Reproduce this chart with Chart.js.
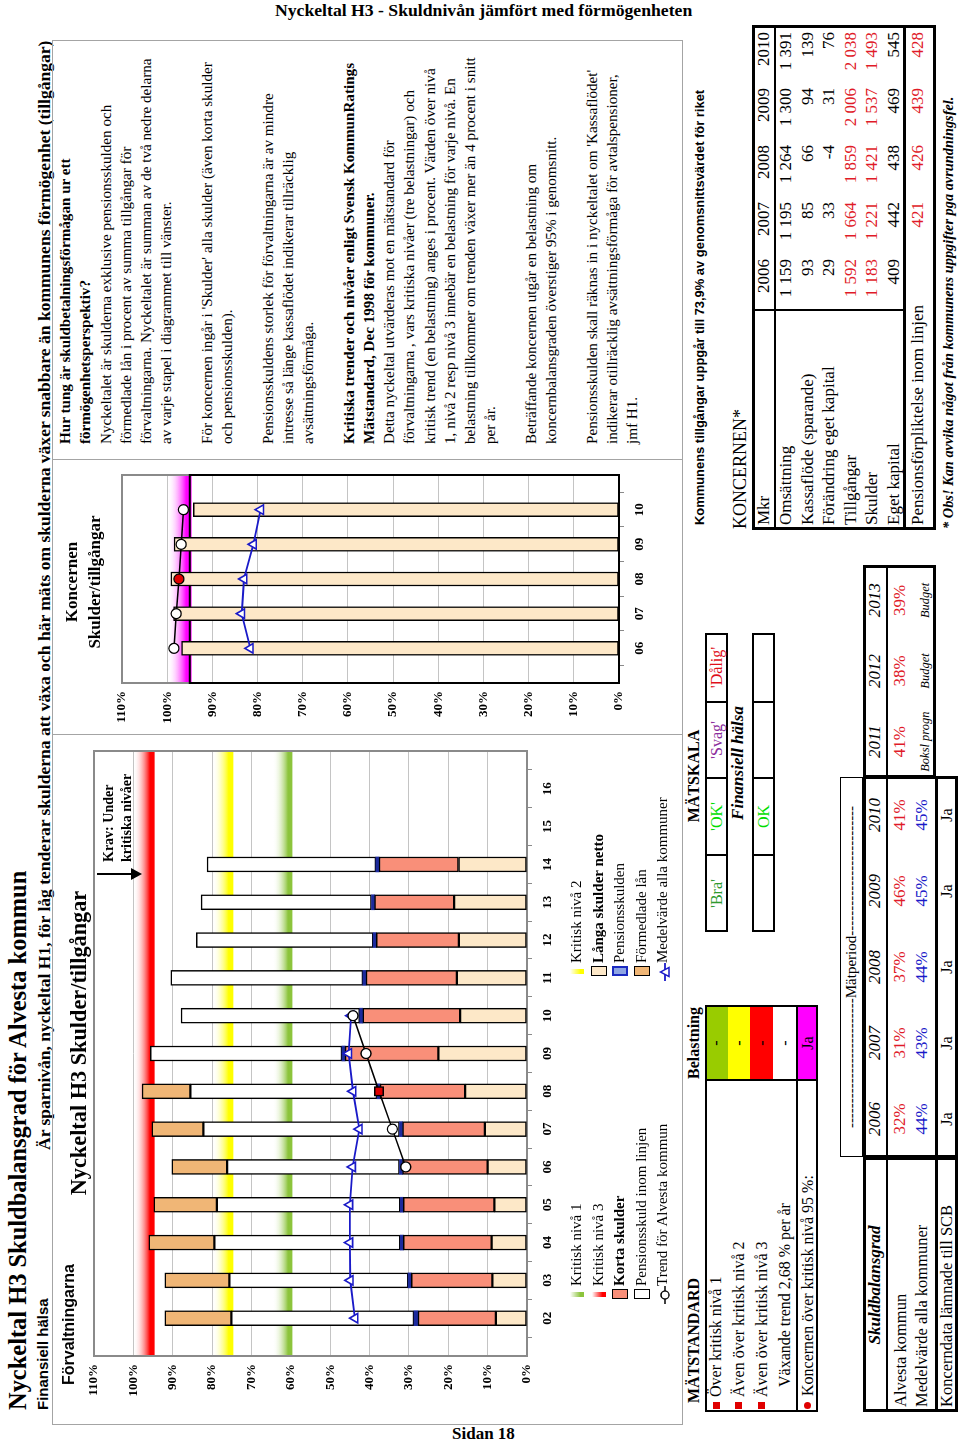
<!DOCTYPE html>
<html lang="sv">
<head>
<meta charset="utf-8">
<title>Nyckeltal H3 Skuldbalansgrad för Alvesta kommun</title>
<script src="https://cdn.jsdelivr.net/npm/chart.js@4.4.1/dist/chart.umd.min.js"></script>
<style>
  html, body { margin: 0; padding: 0; background: #fff; }
  body { width: 960px; height: 1446px; position: relative; overflow: hidden; font-family: 'Liberation Serif', 'Times New Roman', serif; color: #000; }
  #sheet { position: absolute; left: 0; top: 0; width: 1446px; height: 960px; transform-origin: 0 0; transform: rotate(-90deg) translateX(-1446px); }
  .a { position: absolute; box-sizing: border-box; }
  .t { position: absolute; white-space: nowrap; line-height: 1.15; transform: translateY(-50%); }
  .tc { position: absolute; white-space: nowrap; line-height: 1.15; transform: translate(-50%, -50%); }
  .tr { position: absolute; white-space: nowrap; line-height: 1.15; transform: translate(-100%, -50%); }
  canvas { position: absolute; }
  #pageHead { position: absolute; left: 275px; top: 0; font-weight: bold; font-size: 17px; white-space: nowrap; }
  #pageFoot { position: absolute; left: 452px; top: 1424px; font-weight: bold; font-size: 17px; white-space: nowrap; }
  #info { position: absolute; left: 1002px; top: 55px; font-size: 14.8px; line-height: 20.25px; white-space: nowrap; }
</style>
</head>
<body>
<div id="pageHead" data-fit="417">Nyckeltal H3 - Skuldnivån jämfört med förmögenheten</div>
<div id="pageFoot">Sidan 18</div>
<div id="sheet">
  <canvas id="mainChart" width="665" height="480" style="left:40px;top:85px"></canvas>
  <canvas id="koncernChart" width="269" height="545" style="left:712px;top:112px"></canvas>
  <div id="info"><b>Hur tung är skuldbetalningsförmågan ur ett<br>förmögenhetsperspektiv?</b><br>Nyckeltalet är skulderna exklusive pensionsskulden och<br>förmedlade lån i procent av summa tillgångar för<br><span id="fitLine">förvaltningarna. Nyckeltalet är summan av de två nedre delarna</span><br>av varje stapel i diagrammet till vänster.<br><br>För koncernen ingår i 'Skulder' alla skulder (även korta skulder<br>och pensionsskulden).<br><br>Pensionsskuldens storlek för förvaltningarna är av mindre<br>intresse så länge kassaflödet indikerar tillräcklig<br>avsättningsförmåga.<br><br><b>Kritiska trender och nivåer enligt Svensk KommunRatings<br>Mätstandard, Dec 1998 för kommuner.</b><br>Detta nyckeltal utvärderas mot en mätstandard för<br>förvaltningarna , vars kritiska nivåer (tre belastningar) och<br>kritisk trend (en belastning) anges i procent. Värden över nivå<br>1, nivå 2 resp nivå 3 innebär en belastning för varje nivå. En<br>belastning tillkommer om trenden växer mer än 4 procent i snitt<br>per år.<br><br>Beträffande koncernen utgår en belastning om<br>koncernbalansgraden överstiger 95% i genomsnitt.<br><br>Pensionsskulden skall räknas in i nyckeltalet om 'Kassaflödet'<br>indikerar otillräcklig avsättningsförmåga för avtalspensioner,<br>jmf H1.</div>
</div>
<script>
// Förvaltningarna: skulder/tillgångar per år (procent, staplarnas delar nerifrån)
const years = ['02', '03', '04', '05', '06', '07', '08', '09', '10', '11', '12', '13', '14', '15', '16'];
const langaSkulderNetto = [7.9, 8.8, 9.0, 8.3, 10.0, 10.7, 15.7, 22.5, 17.0, 17.8, 17.3, 18.5, 17.4, null, null];
const kortaSkulder = [19.8, 20.6, 22.4, 23.1, 21.6, 20.9, 21.6, 23.7, 24.7, 23.1, 21.0, 20.2, 20.2, null, null];
const pensionsskulden = [1.0, 0.8, 0.8, 0.8, 0.8, 0.8, 0.8, 0.8, 0.8, 0.8, 0.8, 0.8, 0.8, null, null];
const pensionsskuldInomLinjen = [46.4, 45.4, 47.2, 46.6, 43.8, 49.8, 47.4, 48.7, 45.4, 48.8, 44.9, 43.3, 42.9, null, null];
const formedladeLan = [16.9, 16.4, 16.7, 16.0, 14.0, 13.1, 12.3, null, null, null, null, null, null, null, null];
const trendAlvesta = [null, null, null, null, 30.8, 34.2, 37.6, 40.9, 44.2, null, null, null, null, null, null];
const medelvardeAlla = [43.7, 44.9, 45.0, 45.0, 44.3, 42.6, 44.2, 45.3, 44.7, null, null, null, null, null, null];
const kritiskaNivaer = [60, 75, 95];
const markYear = '08';

// Koncernen: skulder/tillgångar
const koncernYears = ['06', '07', '08', '09', '10'];
const koncernSkulder = [96.8, 98.6, 99.2, 98.5, 94.2];
const koncernTrend = [98.5, 98.0, 97.4, 96.9, 96.4];
const koncernMedel = [81.6, 83.5, 83.0, 80.9, 79.3];
const koncernNiva = 95;

// Tabeller
const tabellAr = ['2006', '2007', '2008', '2009', '2010', '2011', '2012', '2013'];
const alvestaKommun = ['32%', '31%', '37%', '46%', '41%', '41%', '38%', '39%'];
const medelvardeKommuner = ['44%', '43%', '44%', '45%', '45%'];
const prognosTyp = ['Boksl progn', 'Budget', 'Budget'];
const koncerndataSCB = ['Ja', 'Ja', 'Ja', 'Ja', 'Ja'];
const koncernAr = ['2006', '2007', '2008', '2009', '2010'];
const koncernRader = [
    ['Omsättning', ['1 159', '1 195', '1 264', '1 300', '1 391'], false],
    ['Kassaflöde (sparande)', ['93', '85', '66', '94', '139'], false],
    ['Förändring eget kapital', ['29', '33', '-4', '31', '76'], false],
    ['Tillgångar', ['1 592', '1 664', '1 859', '2 006', '2 038'], true],
    ['Skulder', ['1 183', '1 221', '1 421', '1 537', '1 493'], true],
    ['Eget kapital', ['409', '442', '438', '469', '545'], false]
];
const pensionsforpliktelse = ['', '421', '426', '439', '428'];

const RED = '#e01a28';
const BLUE = '#1a1ac8';

Chart.defaults.font.family = "'Liberation Serif', 'Times New Roman', serif";
Chart.defaults.animation = false;

// critical level bands: solid at the level, fading upwards
const bandPlugin = {
    id: 'bands',
    beforeDatasetsDraw(chart, args, opts) {
        const {ctx, chartArea: a, scales: {y}} = chart;
        (opts.levels || []).forEach(l => {
            const y0 = y.getPixelForValue(l.value - 0.4);
            const y1 = y.getPixelForValue(l.value + l.fade);
            const g = ctx.createLinearGradient(0, y0, 0, y1);
            g.addColorStop(0, l.color);
            g.addColorStop(0.22, l.color);
            g.addColorStop(1, 'rgba(255,255,255,0)');
            ctx.save();
            ctx.fillStyle = g;
            ctx.fillRect(a.left, y1, a.right - a.left, y0 - y1);
            ctx.restore();
        });
    }
};

const framePlugin = {
    id: 'frame',
    beforeDatasetsDraw(chart, args, opts) {
        const {ctx, chartArea: a, scales: {y}} = chart;
        ctx.save();
        ctx.strokeStyle = '#8a8a8a';
        ctx.lineWidth = 2;
        ctx.strokeRect(a.left, a.top, a.right - a.left, a.bottom - a.top);
        if (opts.inner != null) {
            const yt = y.getPixelForValue(opts.inner);
            ctx.strokeStyle = '#000';
            ctx.strokeRect(a.left, yt, a.right - a.left, y.getPixelForValue(0) - yt);
        }
        ctx.restore();
    }
};

const pad = arr => [null, ...arr, null];
const tickFont = {size: 13, weight: 'bold'};

function axes(xHeight, yWidth, stacked) {
    return {
        x: {
            stacked, offset: false,
            grid: {display: true, drawOnChartArea: false, tickLength: 5, color: '#8a8a8a'},
            border: {display: false},
            ticks: {font: tickFont, color: '#000', autoSkip: false, maxRotation: 0, padding: 8},
            afterFit: s => { s.height = xHeight; s.paddingLeft = 0; s.paddingRight = 0; }
        },
        y: {
            stacked, min: 0, max: 110,
            grid: {color: '#c4c4c4', drawTicks: false},
            border: {display: false},
            ticks: {stepSize: 10, font: tickFont, color: '#000', padding: 8, callback: v => v + '%'},
            afterFit: s => { s.width = yWidth; s.paddingTop = 0; s.paddingBottom = 0; }
        }
    };
}

// main chart
const mainLabels = pad(years);
const mainMark = mainLabels.indexOf(markYear);
const barBase = {type: 'bar', barThickness: 15, borderColor: '#000', borderWidth: 1.5, borderSkipped: false, order: 2, stack: 'skulder'};
const bandColors = ['#8cc43c', '#ffff00', '#ff0000'];

new Chart(document.getElementById('mainChart'), {
    data: {
        labels: mainLabels,
        datasets: [
            {...barBase, label: 'Långa skulder netto', data: pad(langaSkulderNetto), backgroundColor: '#fde8c8'},
            {...barBase, label: 'Korta skulder', data: pad(kortaSkulder), backgroundColor: '#f98f79'},
            {...barBase, label: 'Pensionsskulden', data: pad(pensionsskulden), backgroundColor: '#1c2a9c', borderWidth: 0},
            {...barBase, label: 'Pensionsskuld inom linjen', data: pad(pensionsskuldInomLinjen), backgroundColor: '#ffffff'},
            {...barBase, label: 'Förmedlade lån', data: pad(formedladeLan), backgroundColor: '#f0b676'},
            {
                type: 'line', label: 'Trend för Alvesta kommun', data: pad(trendAlvesta), stack: 'trend', order: 0,
                borderColor: '#000', borderWidth: 1.5,
                pointStyle: mainLabels.map((_, i) => i === mainMark ? 'rect' : 'circle'),
                pointRadius: mainLabels.map((_, i) => i === mainMark ? 6 : 5),
                pointBackgroundColor: mainLabels.map((_, i) => i === mainMark ? '#e00000' : '#fff'),
                pointBorderColor: '#000', pointBorderWidth: 1.3
            },
            {
                type: 'line', label: 'Medelvärde alla kommuner', data: pad(medelvardeAlla), stack: 'medel', order: 1,
                borderColor: BLUE, borderWidth: 1.8,
                pointStyle: 'triangle', pointRadius: 5.5, pointBackgroundColor: '#fff',
                pointBorderColor: BLUE, pointBorderWidth: 1.6
            }
        ]
    },
    options: {
        responsive: false,
        layout: {padding: {top: 9, right: 10, left: 0, bottom: 0}},
        plugins: {
            legend: {display: false}, tooltip: {enabled: false},
            bands: {levels: kritiskaNivaer.map((v, i) => ({value: v, fade: i === 0 ? 4.6 : 5, color: bandColors[i]}))},
            frame: {}
        },
        scales: axes(38, 50, true)
    },
    plugins: [bandPlugin, framePlugin]
});

// koncern chart
const kLabels = pad(koncernYears);
const kMark = kLabels.indexOf(markYear);
new Chart(document.getElementById('koncernChart'), {
    data: {
        labels: kLabels,
        datasets: [
            {type: 'bar', label: 'Skulder/tillgångar', data: pad(koncernSkulder), backgroundColor: '#fde8c8', borderColor: '#000', borderWidth: 1.5, borderSkipped: false, barThickness: 14, order: 2},
            {
                type: 'line', label: 'Trend', data: pad(koncernTrend), order: 0, borderColor: '#000', borderWidth: 1.5,
                pointRadius: 5, pointBackgroundColor: kLabels.map((_, i) => i === kMark ? '#e00000' : '#fff'),
                pointBorderColor: '#000', pointBorderWidth: 1.3
            },
            {
                type: 'line', label: 'Medelvärde', data: pad(koncernMedel), order: 1, borderColor: BLUE, borderWidth: 1.8,
                pointStyle: 'triangle', pointRadius: 5.5, pointBackgroundColor: '#fff', pointBorderColor: BLUE, pointBorderWidth: 1.6
            }
        ]
    },
    options: {
        responsive: false,
        layout: {padding: {top: 10, right: 10, left: 0, bottom: 0}},
        plugins: {
            legend: {display: false}, tooltip: {enabled: false},
            bands: {levels: [{value: koncernNiva, fade: 5, color: '#ff00ff'}]},
            frame: {inner: koncernNiva}
        },
        scales: axes(38, 51, false)
    },
    plugins: [bandPlugin, framePlugin]
});

// ---------- page furniture (reading frame coordinates) ----------
const sheet = document.getElementById('sheet');
function el(cls, x, y, w, h, html, css) {
    const d = document.createElement('div');
    d.className = cls;
    d.style.left = x + 'px';
    d.style.top = y + 'px';
    if (w != null) d.style.width = w + 'px';
    if (h != null) d.style.height = h + 'px';
    if (html != null) d.innerHTML = html;
    if (css) d.style.cssText += css;
    sheet.appendChild(d);
    return d;
}
const txt = (x, y, html, css) => el('t', x, y, null, null, html, css);
const ctxt = (x, y, html, css) => el('tc', x, y, null, null, html, css);
const rtxt = (x, y, html, css) => el('tr', x, y, null, null, html, css);
const rect = (x, y, w, h, css) => el('a', x, y, w, h, null, css);
const SANS = "font-family:'Liberation Sans',Arial,sans-serif;";

txt(36, 18, 'Nyckeltal H3 Skuldbalansgrad för Alvesta kommun', 'font-weight:bold;font-size:24px').dataset.fit = 540;
txt(36, 43, 'Finansiell hälsa', SANS + 'font-weight:bold;font-size:15px');
txt(296, 44, 'Är sparnivån, nyckeltal H1, för låg tenderar skulderna att växa och här mäts om skulderna växer snabbare än kommunens förmögenhet (tillgångar)', 'font-weight:bold;font-size:16px').dataset.fit = 1110;

// frame
rect(21, 52, 1385, 631, 'border:1px solid #a4a4a4');
rect(711, 52, 1, 631, 'background:#a4a4a4');
rect(986, 52, 1, 631, 'background:#a4a4a4');

txt(61, 69, 'Förvaltningarna', SANS + 'font-weight:bold;font-size:16px');
ctxt(403, 79, 'Nyckeltal H3 Skulder/tillgångar', 'font-weight:bold;font-size:22px').dataset.fit = 305;
ctxt(864, 72, 'Koncernen', 'font-weight:bold;font-size:17px');
ctxt(864, 95, 'Skulder/tillgångar', 'font-weight:bold;font-size:17px');

// Krav-annotation
txt(584, 109, 'Krav: Under', 'font-weight:bold;font-size:14px');
txt(584, 127, 'kritiska nivåer', 'font-weight:bold;font-size:14px');
rect(571, 97, 2, 36, 'background:#000');
rect(566, 131, 0, 0, 'border-left:6px solid transparent;border-right:6px solid transparent;border-top:11px solid #000');

// legend
const legendItems = [
    ['Kritisk nivå 1', 'band', bandColors[0]], ['Kritisk nivå 2', 'band', bandColors[1]],
    ['Kritisk nivå 3', 'band', bandColors[2]], ['<b>Långa skulder netto</b>', 'box', '#fde8c8'],
    ['<b>Korta skulder</b>', 'box', '#f98f79'], ['Pensionsskulden', 'pbox', '#8ea5e3'],
    ['Pensionsskuld inom linjen', 'box', '#ffffff'], ['Förmedlade lån', 'box', '#f0b676'],
    ['Trend för Alvesta kommun', 'trend', '#000'], ['Medelvärde alla kommuner', 'medel', BLUE]
];
legendItems.forEach(([label, kind, color], i) => {
    const x = i % 2 ? 469 : 146;
    const y = 577 + Math.floor(i / 2) * 21.5;
    if (kind === 'band') rect(x + 3, y - 7, 5, 14, `background:linear-gradient(to bottom, rgba(255,255,255,0), ${color} 75%)`);
    if (kind === 'box') rect(x + 1, y - 8, 10, 16, `background:${color};border:1.5px solid #000`);
    if (kind === 'pbox') rect(x + 1, y - 8, 10, 16, `background:${color};border:2px solid #1a2ac0`);
    if (kind === 'trend') el('a', x - 4, y - 6, 18, 12, '<svg width="18" height="12"><line x1="0" y1="6" x2="18" y2="6" stroke="#000" stroke-width="1.5"/><circle cx="9" cy="6" r="4" fill="#fff" stroke="#000" stroke-width="1.3"/></svg>');
    if (kind === 'medel') el('a', x - 4, y - 6, 18, 12, `<svg width="18" height="12"><line x1="0" y1="6" x2="18" y2="6" stroke="${color}" stroke-width="1.8"/><polygon points="9,1.5 13.5,10 4.5,10" fill="#fff" stroke="${color}" stroke-width="1.5"/></svg>`);
    txt(x + 14, y, label, 'font-size:15px');
});

// MÄTSTANDARD
txt(43, 694, 'MÄTSTANDARD', 'font-weight:bold;font-size:16px');
ctxt(403, 694, 'Belastning', 'font-weight:bold;font-size:16px');
const mstRows = [
    ['Över kritisk nivå 1', 'sq', '#99cc00', '-', 705, 22.5],
    ['Även över kritisk nivå 2', 'sq', '#ffff00', '-', 727.5, 22.5],
    ['Även över kritisk nivå 3', 'sq', '#ff0000', '-', 750, 23],
    ['Växande trend 2,68 % per år', null, '#ffffff', '-', 773, 24],
    ['Koncernen över kritisk nivå 95 %:', 'dot', '#ff00ff', 'Ja', 797, 21]
];
mstRows.forEach(([label, bullet, fill, mark, top, h]) => {
    const cy = top + h / 2;
    rect(366, top, 75, h, `background:${fill}`);
    ctxt(403, cy, mark, 'font-size:16px');
    if (bullet === 'sq') rect(37, cy - 3.5, 7, 7, 'background:#e00000');
    if (bullet === 'dot') rect(37, cy - 3.5, 7, 7, 'background:#e00000;border-radius:50%');
    txt(bullet === 'dot' ? 50 : bullet ? 49 : 59, cy, label, 'font-size:16px');
});
rect(34, 705, 407, 113, 'border:2px solid #000');
rect(365, 705, 2, 113, 'background:#000');
rect(34, 796, 407, 2, 'background:#000');

// MÄTSKALA
ctxt(670, 694, 'MÄTSKALA', 'font-weight:bold;font-size:16px');
const skala = [['\'Bra\'', '#2e9a2e'], ['\'OK\'', '#00dd00'], ['\'Svag\'', '#8b2c9b'], ['\'Dålig\'', '#e0101a']];
const skalaX = [514, 591, 668, 744, 813];
[705, 752].forEach((top, r) => {
    rect(514, top, 299, 23, 'border:2px solid #000');
    [591, 668, 744].forEach(x => rect(x - 1, top, 2, 23, 'background:#000'));
    skala.forEach(([word, color], i) => {
        const cx = (skalaX[i] + skalaX[i + 1]) / 2;
        if (r === 0) ctxt(cx, top + 11.5, word, `font-size:16px;color:${color}`);
        else if (i === 1) ctxt(cx, top + 11.5, 'OK', `font-size:16px;color:${color}`);
    });
});
ctxt(683, 738, 'Finansiell hälsa', 'font-weight:bold;font-style:italic;font-size:17px');

// Skuldbalansgrad-tabell
const colX = [289, 365, 441, 517, 593, 669, 739.7, 810.3, 881];
rect(289, 840, 380, 23, 'border:1.5px solid #000');
ctxt(479, 851.5, '--------------------------Mätperiod--------------------------', 'font-size:15px');
rect(34, 863, 255, 95, 'border:3px solid #000');
rect(288, 863, 382, 95, 'border:3px solid #000');
rect(668, 863, 213, 73, 'border:3px solid #000');
rect(34, 886, 847, 2, 'background:#000');
rect(34, 934.5, 636, 3, 'background:#000');
ctxt(161, 875, 'Skuldbalansgrad', 'font-weight:bold;font-style:italic;font-size:17px');
txt(39, 901, 'Alvesta kommun', 'font-size:16.5px');
txt(39, 922, 'Medelvärde alla kommuner', 'font-size:16.5px');
txt(39, 947, 'Koncerndata lämnade till SCB', 'font-size:16.5px');
tabellAr.forEach((yr, i) => {
    const cx = (colX[i] + colX[i + 1]) / 2;
    ctxt(cx, 875, yr, 'font-style:italic;font-size:17px');
    ctxt(cx, 900, alvestaKommun[i], `font-size:17px;color:${RED}`);
    if (i < medelvardeKommuner.length) ctxt(cx, 922, medelvardeKommuner[i], `font-size:17px;color:${BLUE}`);
    if (i < koncerndataSCB.length) ctxt(cx, 947, koncerndataSCB[i], 'font-size:16px');
    if (i >= 5) ctxt(cx, 925, prognosTyp[i - 5], 'font-style:italic;font-size:12.5px');
});

// Koncern-tabell
txt(921, 700, 'Kommunens tillgångar uppgår till 73,9% av genomsnittsvärdet för riket', "font-family:'Liberation Sans Narrow','Arial Narrow',sans-serif;font-weight:bold;font-size:14px").dataset.fit = 435;
txt(917, 740, 'KONCERNEN*', 'font-size:18px');
rect(916, 752, 505, 184, 'border:3px solid #000');
rect(916, 774, 505, 2, 'background:#000');
rect(1135, 752, 2, 152, 'background:#000');
rect(916, 903, 505, 3, 'background:#000');
txt(921, 764, 'Mkr', 'font-size:17px');
const kColRight = [1187, 1244, 1301, 1358, 1414];
koncernAr.forEach((yr, i) => rtxt(kColRight[i], 764, yr, 'font-size:17px'));
koncernRader.forEach(([label, vals, red], r) => {
    const cy = 786 + r * 21.6;
    txt(921, cy, label, 'font-size:17px');
    vals.forEach((v, i) => rtxt(kColRight[i], cy, v, `font-size:17px;color:${red ? RED : '#000'}`));
});
txt(921, 918, 'Pensionsförpliktelse inom linjen', 'font-size:17px');
pensionsforpliktelse.forEach((v, i) => { if (v) rtxt(kColRight[i], 918, v, `font-size:17px;color:${RED}`); });
txt(917, 948, '* Obs! Kan avvika något från kommunens uppgifter pga avrundningsfel.', 'font-weight:bold;font-style:italic;font-size:14px').dataset.fit = 433;

// fit selected lines to the widths measured on the original page
document.querySelectorAll('[data-fit]').forEach(node => {
    const fs = parseFloat(getComputedStyle(node).fontSize);
    node.style.fontSize = (fs * Number(node.dataset.fit) / node.offsetWidth).toFixed(2) + 'px';
});
const info = document.getElementById('info');
info.style.fontSize = (14.8 * 386 / document.getElementById('fitLine').offsetWidth).toFixed(2) + 'px';
</script>
</body>
</html>
